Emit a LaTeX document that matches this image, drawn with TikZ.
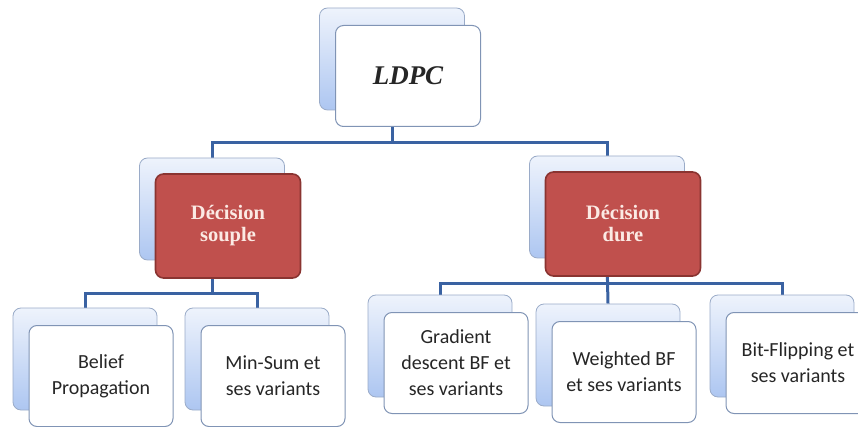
\documentclass[tikz,border=0pt]{standalone}
\usepackage{fontspec}
\setmainfont{Liberation Serif}
\newfontfamily\leaffont{Carlito}

\definecolor{backtop}{HTML}{EEF3FC}
\definecolor{backbot}{HTML}{ADC6F1}
\definecolor{backline}{HTML}{9AABC8}
\definecolor{frontline}{HTML}{8094B5}
\definecolor{redfill}{HTML}{C0504D}
\definecolor{redline}{HTML}{8A3431}
\definecolor{redtext}{HTML}{FBEAE4}
\definecolor{linkblue}{HTML}{3A62A2}

\pgfdeclarelayer{bg}
\pgfsetlayers{bg,main}

\tikzset{
  x=1pt, y=-1pt,
  backbox/.style={draw=backline, line width=0.8pt, rounded corners=8pt,
    top color=backtop, bottom color=backbot,
    minimum width=144pt, minimum height=102pt, inner sep=0pt},
  frontbox/.style={draw=frontline, line width=1pt, rounded corners=8pt,
    fill=white, minimum width=144pt, minimum height=101pt,
    inner sep=0pt, align=center, text=black!85,
    font=\leaffont\fontsize{20}{26}\selectfont},
  topbox/.style={frontbox, font=\fontsize{27}{30}\selectfont\bfseries\itshape},
  redbox/.style={frontbox, draw=redline, line width=1.6pt, fill=redfill,
    text=redtext, minimum height=104pt,
    font=\fontsize{20.5}{22}\selectfont\bfseries},
  link/.style={draw=linkblue, line width=3pt},
}

% back card at (#2,#3), front card shifted by (16,17); #4 front style, #5 width
\newcommand\cardpair[6]{%
  \node[backbox, minimum width=#5] (#1-b) at (#2,#3) {};
  \node[#4, minimum width=#5] (#1) at (#2+16,#3+17) {#6};
}

\begin{document}
\begin{tikzpicture}
  \useasboundingbox (0,0) rectangle (858,427);

  \cardpair{ldpc}{392}{59}{topbox}{145pt}{LDPC}
  \cardpair{souple}{212}{209}{redbox}{145pt}{Décision\\souple}
  \cardpair{dure}{607}{207}{redbox}{155pt}{Décision\\dure}

  \cardpair{belief}{85}{359}{frontbox}{144pt}{Belief\\Propagation}
  \cardpair{minsum}{257}{359}{frontbox}{144pt}{Min-Sum et\\ses variants}

  \cardpair{grad}{440}{346}{frontbox}{144pt}{Gradient\\descent BF et\\ses variants}
  \cardpair{weight}{608}{355}{frontbox}{144pt}{Weighted BF\\et ses variants}
  \cardpair{bit}{782}{346}{frontbox}{144pt}{Bit-Flipping et\\ses variants}

  % bus levels of the tree
  \coordinate (busA) at (0,143);
  \coordinate (busB) at (0,293);
  \coordinate (busC) at (0,283);

  \begin{pgfonlayer}{bg}
    \draw[link] (ldpc-b.south) -- (ldpc-b.south |- busA) -| (souple-b.north);
    \draw[link] (ldpc-b.south |- busA) -| (dure-b.north);

    \draw[link] (souple-b.south) -- (souple-b.south |- busB) -| (belief-b.north);
    \draw[link] (souple-b.south |- busB) -| (minsum-b.north);

    \draw[link] (dure-b.south) -- (weight-b.north);
    \draw[link] (grad-b.north) |- (dure-b.south |- busC) -| (bit-b.north);
  \end{pgfonlayer}
\end{tikzpicture}
\end{document}
